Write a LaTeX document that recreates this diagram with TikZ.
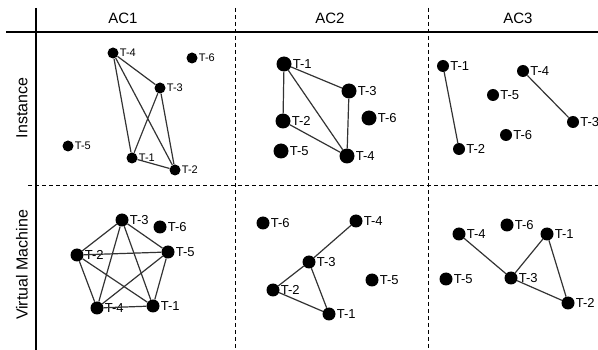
\documentclass[tikz,border=0pt]{standalone}
\usepackage{fontspec}
\setmainfont{Liberation Sans}
\begin{document}
\begin{tikzpicture}[x=1pt, y=-1pt,
    dot/.style = { shape=circle, fill=black, inner sep=0pt, minimum size=#1 },
    dot/.default = 12pt,
    tlab/.style = { font=\fontsize{13}{13}\selectfont, inner sep=1pt },
    slab/.style = { font=\fontsize{11}{11}\selectfont, inner sep=1pt },
    edge/.style = { draw=black!80, line width=1.2pt },
    grid/.style = { line width=1.5pt },
    sep/.style = { line width=0.6pt, dash pattern=on 4pt off 3pt }
  ]
  \useasboundingbox (0,0) rectangle (598,350);
  % table frame
  \draw [grid] (36,8) -- (36,350);
  \draw [grid] (6,32) -- (598,32);
  \draw [sep] (235,8) -- (235,350);
  \draw [sep] (428,8) -- (428,350);
  \draw [sep] (28,185) -- (598,185);
  \node (hAC1) at (123,18) [ font=\fontsize{15}{15}\selectfont ] {AC1};
  \node (hAC2) at (330,18) [ font=\fontsize{15}{15}\selectfont ] {AC2};
  \node (hAC3) at (518,18) [ font=\fontsize{15}{15}\selectfont ] {AC3};
  \node (hInst) at (22,108) [ rotate=90, font=\fontsize{16}{16}\selectfont ] {Instance};
  \node (hVM) at (22,265) [ rotate=90, font=\fontsize{16}{16}\selectfont ] {Virtual Machine};
  % AC1 / instance
  \foreach \n/\x/\y in {4/113/53, 6/192/58, 3/160/88, 5/68/146, 1/132/158, 2/175/170}
    \node (aiT\n) [ dot=11pt, label={[slab, label distance=0pt]right:T-\n} ] at (\x,\y) {};
  \draw [edge] (aiT4) -- (aiT3) (aiT4) -- (aiT1) (aiT4) -- (aiT2)
               (aiT3) -- (aiT1) (aiT3) -- (aiT2) (aiT1) -- (aiT2);
  % AC2 / instance
  \foreach \n/\x/\y in {1/284/64, 3/349/91, 2/283/121, 6/369/118, 5/281/151, 4/347/156}
    \node (biT\n) [ dot=15pt, label={[tlab, label distance=0pt]right:T-\n} ] at (\x,\y) {};
  \draw [edge] (biT1) -- (biT3) (biT1) -- (biT2) (biT1) -- (biT4)
               (biT2) -- (biT4) (biT3) -- (biT4);
  % AC3 / instance
  \foreach \n/\x/\y in {1/443/66, 4/523/71, 5/493/95, 3/573/122, 6/506/135, 2/459/149}
    \node (ciT\n) [ dot=12pt, label={[tlab, label distance=0pt]right:T-\n} ] at (\x,\y) {};
  \draw [edge] (ciT1) -- (ciT2) (ciT4) -- (ciT3);
  % AC1 / virtual machine
  \foreach \n/\x/\y in {3/122/220, 6/160/227, 2/77/255, 5/168/252, 4/97/308, 1/153/306}
    \node (avT\n) [ dot=13pt, label={[tlab, label distance=0pt]right:T-\n} ] at (\x,\y) {};
  \foreach \a/\b in {1/2, 1/3, 1/4, 1/5, 2/3, 2/4, 2/5, 3/4, 3/5, 4/5}
    \draw [edge] (avT\a) -- (avT\b);
  % AC2 / virtual machine
  \foreach \n/\x/\y in {6/263/223, 4/356/221, 3/309/262, 2/273/290, 5/372/280, 1/329/314}
    \node (bvT\n) [ dot=13pt, label={[tlab, label distance=0pt]right:T-\n} ] at (\x,\y) {};
  \draw [edge] (bvT4) -- (bvT3) (bvT3) -- (bvT2) (bvT3) -- (bvT1) (bvT2) -- (bvT1);
  % AC3 / virtual machine
  \foreach \n/\x/\y in {6/507/225, 4/459/234, 1/547/234, 5/446/279, 3/511/278, 2/568/303}
    \node (cvT\n) [ dot=13pt, label={[tlab, label distance=0pt]right:T-\n} ] at (\x,\y) {};
  \draw [edge] (cvT4) -- (cvT3) (cvT3) -- (cvT1) (cvT3) -- (cvT2) (cvT1) -- (cvT2);
\end{tikzpicture}
\end{document}
